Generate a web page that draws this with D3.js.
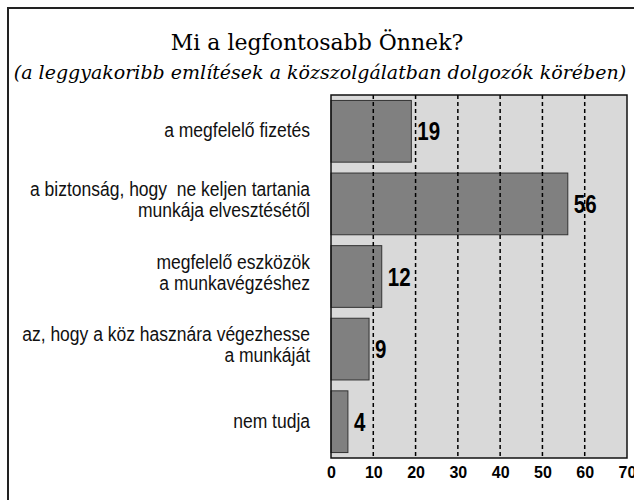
<!DOCTYPE html>
<meta charset="utf-8">
<script src="https://d3js.org/d3.v7.min.js"></script>
<style>
  body { margin: 0; background: #fff; }
</style>
<body>
<div id="chart"></div>
<script>
  var categories = [
    ["a megfelelő fizetés"],
    ["a biztonság, hogy  ne keljen tartania", "munkája elvesztésétől"],
    ["megfelelő eszközök", "a munkavégzéshez"],
    ["az, hogy a köz hasznára végezhesse", "a munkáját"],
    ["nem tudja"]
  ];
  var values = [19, 56, 12, 9, 4];
  var xTicks = [0, 10, 20, 30, 40, 50, 60, 70];

  var W = 634, H = 500;
  var plot = {left: 331, top: 95, right: 627, bottom: 458};

  var svg = d3.select("#chart")
    .append("svg")
      .attr("width", W)
      .attr("height", H);

  // outer frame
  svg.append("rect")
    .attr("x", 8).attr("y", 8)
    .attr("width", W + 20).attr("height", H + 20)
    .attr("fill", "none")
    .attr("stroke", "#222")
    .attr("stroke-width", 2);

  svg.append("text")
    .attr("x", 317).attr("y", 50)
    .attr("text-anchor", "middle")
    .attr("font-family", "DejaVu Serif")
    .attr("font-size", "22px")
    .text("Mi a legfontosabb Önnek?");

  svg.append("text")
    .attr("x", 320).attr("y", 79)
    .attr("text-anchor", "middle")
    .attr("font-family", "DejaVu Serif")
    .attr("font-style", "italic")
    .attr("font-size", "19px")
    .text("(a leggyakoribb említések a közszolgálatban dolgozók körében)");

  var x = d3.scaleLinear()
    .domain([0, 70])
    .range([plot.left, plot.right]);

  var y = d3.scaleBand()
    .domain(d3.range(values.length))
    .range([plot.top, plot.bottom])
    .paddingInner(0.15)
    .paddingOuter(0.075);

  svg.append("rect")
    .attr("x", plot.left).attr("y", plot.top)
    .attr("width", plot.right - plot.left)
    .attr("height", plot.bottom - plot.top)
    .attr("fill", "#d9d9d9");

  svg.append("g")
    .selectAll("rect")
    .data(values)
    .enter()
    .append("rect")
      .attr("x", x(0))
      .attr("y", function(d, i) { return y(i); })
      .attr("width", function(d) { return x(d) - x(0); })
      .attr("height", y.bandwidth())
      .attr("fill", "#808080")
      .attr("stroke", "#333")
      .attr("stroke-width", 1);

  // dashed grid lines
  svg.append("g")
    .selectAll("line")
    .data(xTicks.filter(function(t) { return t > 0 && t < 70; }))
    .enter()
    .append("line")
      .attr("x1", function(d) { return x(d); })
      .attr("x2", function(d) { return x(d); })
      .attr("y1", plot.top)
      .attr("y2", plot.bottom)
      .attr("stroke", "#000")
      .attr("stroke-width", 1.5)
      .attr("stroke-dasharray", "4,3");

  svg.append("rect")
    .attr("x", plot.left).attr("y", plot.top)
    .attr("width", plot.right - plot.left)
    .attr("height", plot.bottom - plot.top)
    .attr("fill", "none")
    .attr("stroke", "#111")
    .attr("stroke-width", 1.5);

  var sans = "'Liberation Sans', Arial, sans-serif";

  var xAxis = svg.append("g")
    .attr("transform", "translate(0," + plot.bottom + ")")
    .call(d3.axisBottom(x).tickValues(xTicks).tickSize(0).tickPadding(9));
  xAxis.select(".domain").remove();
  xAxis.selectAll("text")
    .attr("font-family", sans)
    .attr("font-weight", "bold")
    .attr("font-size", "16px")
    .attr("fill", "#000");

  // value labels (condensed look via horizontal squeeze)
  svg.append("g")
    .selectAll("text")
    .data(values)
    .enter()
    .append("text")
      .attr("transform", function(d, i) {
        return "translate(" + (x(d) + 6) + "," + (y(i) + y.bandwidth() / 2) + ") scale(0.82,1)";
      })
      .attr("dy", "0.36em")
      .attr("font-family", sans)
      .attr("font-weight", "bold")
      .attr("font-size", "25px")
      .text(function(d) { return d; });

  // category labels
  var labels = svg.append("g")
    .selectAll("text")
    .data(categories)
    .enter()
    .append("text")
      .attr("text-anchor", "end")
      .attr("font-family", sans)
      .attr("font-size", "20px")
      .attr("fill", "#111")
      .style("white-space", "pre")
      .attr("transform", function(d, i) {
        return "translate(310," + (y(i) + y.bandwidth() / 2) + ") scale(0.875,1)";
      });

  labels.selectAll("tspan")
    .data(function(d) { return d; })
    .enter()
    .append("tspan")
      .attr("x", 0)
      .attr("y", function(d, j, nodes) {
        return nodes.length === 1 ? 6 : (j === 0 ? -8 : 13);
      })
      .text(function(d) { return d; });
</script>
</body>
